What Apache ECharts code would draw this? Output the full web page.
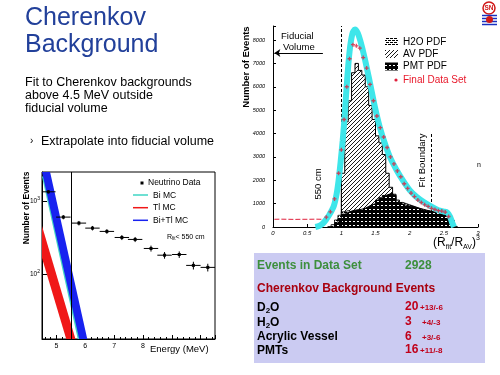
<!DOCTYPE html>
<html>
<head>
<meta charset="utf-8">
<script src="https://cdn.jsdelivr.net/npm/echarts@6/dist/echarts.min.js"></script>
<style>
  html, body { margin: 0; padding: 0; background: #fff; }
  #chart { width: 500px; height: 375px; }
</style>
</head>
<body>
<div id="chart"></div>
<script>
const FONT = '"Liberation Sans", Arial, sans-serif';

// ---- left plot: energy spectrum, R_fit < 550 cm
const energy = [4.72, 5.24, 5.78, 6.25, 6.75, 7.27, 7.73, 8.28, 8.75, 9.26, 9.75, 10.25];
const events = [1340, 604, 500, 427, 385, 318, 299, 225, 182, 186, 132, 124];
const eventErr = [70, 40, 35, 30, 28, 25, 24, 21, 19, 19, 16, 15];
const binHalf = 0.25;

// MC bands, lower and upper edge as [energy, events]
const biLow = [[4.5, 2150], [5.74, 13]];
const biHigh = [[4.76, 2500], [6.02, 13]];
const tlLow = [[4.5, 166], [5.34, 13]];
const tlHigh = [[4.5, 455], [5.66, 13]];
const sumLow = [[4.5, 2500], [5.79, 13]];
const sumHigh = [[4.78, 2500], [6.07, 13]];
const energyTicks = [5, 6, 7, 8];

// ---- right plot: (R/R_AV)^3 distribution
const pdfStart = 0.80;
const pdfBin = 0.05;
const avPdf = [0, 0, 0, 300, 2300, 4500, 5400, 6600, 7000, 6700, 6500, 6000, 5200, 4600, 3900, 3600, 3100, 2300, 1700, 1400,
  1150, 1050, 1000, 950, 900, 850, 800, 760, 720, 680, 640, 600, 570, 540, 500, 380, 150, 0];
const pmtPdf = [0, 0, 150, 350, 550, 620, 680, 720, 740, 760, 800, 880, 950, 1000, 1150, 1250, 1350, 1400, 1450, 1350,
  1050, 980, 930, 900, 870, 830, 780, 730, 700, 680, 650, 630, 610, 590, 570, 530, 300, 0];
const h2oPdf = [0, 100, 300, 500, 650, 700, 650, 600, 500, 400, 350, 300, 250, 200, 150, 120, 100, 80, 60, 50,
  40, 30, 30, 20, 20, 10, 10, 10, 0, 0, 0, 0, 0, 0, 0, 0, 0, 0];
const fitCurve = [[0.62, 0], [0.68, 50], [0.73, 150], [0.78, 330], [0.83, 550], [0.89, 900], [0.93, 1400], [0.96, 2000],
  [0.99, 2800], [1.02, 3700], [1.05, 4800], [1.08, 6100], [1.12, 7500], [1.16, 8250], [1.2, 8450], [1.24, 8300],
  [1.28, 7950], [1.34, 7250], [1.42, 6150], [1.49, 5150], [1.56, 4300], [1.64, 3550], [1.71, 3000], [1.81, 2430],
  [1.91, 1950], [2.0, 1580], [2.1, 1290], [2.2, 1080], [2.32, 870], [2.42, 720], [2.5, 660], [2.55, 620],
  [2.59, 450], [2.62, 200], [2.65, 0]];
const finalData = [[0.78, 420], [0.84, 650], [0.9, 1200], [0.96, 2300], [1.0, 3300], [1.04, 4600], [1.08, 6000],
  [1.12, 7200], [1.17, 7800], [1.22, 7750], [1.27, 7650], [1.32, 7250], [1.37, 6800], [1.42, 6100], [1.47, 5400],
  [1.52, 4750], [1.57, 4250], [1.62, 3850], [1.67, 3400], [1.72, 3000], [1.77, 2700], [1.82, 2400], [1.87, 2150],
  [1.92, 1850], [1.97, 1650], [2.02, 1450], [2.07, 1300], [2.12, 1150], [2.17, 1050], [2.22, 950], [2.27, 880],
  [2.32, 800], [2.37, 750], [2.42, 700], [2.47, 680], [2.52, 640], [2.57, 450]];
const lowRadius = [[0.02, 330], [0.12, 335], [0.22, 330], [0.32, 325], [0.42, 330], [0.52, 330], [0.62, 335], [0.72, 330]];
const radiusTicks = [0, 0.5, 1, 1.5, 2, 2.5, 3];

// table
const dataSetEvents = 2928;
const bgRows = [
  { name: 'D', sub: '2', tail: 'O', n: '20', err: '+13/-6' },
  { name: 'H', sub: '2', tail: 'O', n: '3', err: '+4/-3' },
  { name: 'Acrylic Vessel', sub: '', tail: '', n: '6', err: '+3/-6' },
  { name: 'PMTs', sub: '', tail: '', n: '16', err: '+11/-8' }
];

function makePattern(size, draw) {
  const c = document.createElement('canvas');
  c.width = c.height = size;
  draw(c.getContext('2d'), size);
  return { image: c, repeat: 'repeat' };
}
const avPattern = makePattern(4, (ctx, s) => {
  ctx.fillStyle = '#fff'; ctx.fillRect(0, 0, s, s);
  ctx.strokeStyle = '#000'; ctx.lineWidth = 0.9;
  ctx.beginPath(); ctx.moveTo(0, s); ctx.lineTo(s, 0); ctx.stroke();
});
const pmtPattern = makePattern(4, (ctx, s) => {
  ctx.fillStyle = '#000'; ctx.fillRect(0, 0, s, s);
  ctx.fillStyle = '#fff'; ctx.fillRect(1, 1, 2, 1);
});
const h2oPattern = makePattern(4, (ctx, s) => {
  ctx.fillStyle = '#fff'; ctx.fillRect(0, 0, s, s);
  ctx.fillStyle = '#000'; ctx.fillRect(0, 0, 3, 1); ctx.fillRect(2, 2, 2, 1); ctx.fillRect(0, 2, 1, 1);
});

function histData(counts) {
  const pts = [[pdfStart, 0]];
  counts.forEach((c, i) => pts.push([+(pdfStart + (i + 1) * pdfBin).toFixed(2), c]));
  pts.push([pts[pts.length - 1][0], 0]);
  return pts;
}

function band(name, low, high, color) {
  return {
    type: 'custom', name: name, xAxisIndex: 0, yAxisIndex: 0, clip: true, silent: true,
    data: low, encode: { x: 0, y: 1 },
    renderItem: (params, api) => {
      if (params.dataIndex !== 0) return null;
      const pts = low.concat(high.slice().reverse()).map(p => api.coord(p));
      return { type: 'polygon', shape: { points: pts }, style: { fill: color } };
    }
  };
}

function txt(x, y, text, size, opts) {
  opts = opts || {};
  return {
    type: 'text', x: x, y: y, rotation: opts.rotation || 0, z: 100,
    style: {
      text: text, fill: opts.color || '#000',
      font: (opts.weight || 'normal') + ' ' + size + 'px ' + FONT,
      align: opts.align || 'left', verticalAlign: 'middle',
      textAlign: opts.align || 'left', textVerticalAlign: 'middle',
      rich: opts.rich
    }
  };
}
function seg(x1, y1, x2, y2, color, w) {
  return { type: 'line', z: 100, shape: { x1, y1, x2, y2 }, style: { stroke: color, lineWidth: w || 1 } };
}

const elements = [
  // slide title and text
  txt(25, 18.5, 'Cherenkov', 25, { color: '#22409a' }),
  txt(25, 45.5, 'Background', 25, { color: '#22409a' }),
  txt(25, 82.5, 'Fit to Cherenkov backgrounds', 12.5),
  txt(25, 96, 'above 4.5 MeV outside', 12.5),
  txt(25, 109, 'fiducial volume', 12.5),
  txt(30, 141.5, '\u203A', 10),
  txt(41, 141.5, 'Extrapolate into fiducial volume', 12.5),

  // left plot labels and legend
  txt(27, 208, 'Number of Events', 8.5, { rotation: Math.PI / 2, align: 'center', weight: 'bold' }),
  txt(150, 349, 'Energy (MeV)', 9.5),
  { type: 'rect', z: 100, shape: { x: 140.5, y: 181.5, width: 3, height: 3 }, style: { fill: '#000' } },
  txt(148, 183, 'Neutrino Data', 8.5),
  seg(133, 195, 148, 195, '#3fd6c4', 1.5), txt(153, 195.5, 'Bi MC', 8.5),
  seg(133, 207.7, 148, 207.7, '#f01818', 1.5), txt(153, 208, 'Tl MC', 8.5),
  seg(133, 220.3, 148, 220.3, '#1822f0', 1.5), txt(153, 220.5, 'Bi+Tl MC', 8.5),
  txt(167, 236.7, '{a|R}{s|fit}{a|< 550 cm}', 7, {
    rich: { a: { fontSize: 7, fontFamily: FONT }, s: { fontSize: 4.5, fontFamily: FONT, verticalAlign: 'bottom', lineHeight: 9 } }
  }),

  // right plot labels and legend
  txt(246, 67, 'Number of Events', 9.5, { rotation: Math.PI / 2, align: 'center', weight: 'bold' }),
  txt(281, 36, 'Fiducial', 9.5),
  txt(283, 47.5, 'Volume', 9.5),
  txt(318, 184, '550 cm', 9.5, { rotation: Math.PI / 2, align: 'center' }),
  txt(422.5, 160.5, 'Fit Boundary', 9.5, { rotation: Math.PI / 2, align: 'center' }),
  txt(433, 243, '{a|(R}{s|fit}{a|/R}{s|AV}{a|)}{p|3}', 12, {
    rich: {
      a: { fontSize: 12, fontFamily: FONT, lineHeight: 16 },
      s: { fontSize: 7, fontFamily: FONT, verticalAlign: 'bottom', lineHeight: 16 },
      p: { fontSize: 7, fontFamily: FONT, verticalAlign: 'top', lineHeight: 16 }
    }
  }),
  { type: 'rect', z: 100, shape: { x: 385, y: 38, width: 13, height: 8 }, style: { fill: h2oPattern } },
  { type: 'rect', z: 100, shape: { x: 385, y: 50, width: 13, height: 8 }, style: { fill: avPattern } },
  { type: 'rect', z: 100, shape: { x: 385, y: 62.5, width: 13, height: 8 }, style: { fill: pmtPattern } },
  { type: 'circle', z: 100, shape: { cx: 396, cy: 80, r: 1.6 }, style: { fill: '#e0203c' } },
  txt(403, 42, 'H2O PDF', 10),
  txt(403, 54, 'AV PDF', 10),
  txt(403, 66.5, 'PMT PDF', 10),
  txt(403, 80, 'Final Data Set', 10, { color: '#e8182a' }),
  txt(477, 165, 'n', 7),

  // SNO logo
  { type: 'circle', z: 100, shape: { cx: 489, cy: 8, r: 6 }, style: { fill: '#fff', stroke: '#d01818', lineWidth: 1.5 } },
  txt(489, 8, 'SN', 6.5, { align: 'center', color: '#d01818', weight: 'bold' }),
  seg(482, 15.5, 497, 15.5, '#1830c0', 1.5),
  seg(482, 18.5, 497, 18.5, '#1830c0', 1.5),
  seg(482, 21.5, 497, 21.5, '#1830c0', 1.5),
  seg(482, 24.5, 497, 24.5, '#1830c0', 1.5),
  { type: 'circle', z: 101, shape: { cx: 489.5, cy: 19.5, r: 3.5 }, style: { fill: '#d01818' } },

  // table
  { type: 'rect', z: 99, shape: { x: 254, y: 253, width: 231, height: 110 }, style: { fill: '#cbcbf2' } },
  txt(257, 265.5, 'Events in Data Set', 12, { color: '#3d8f3d', weight: 'bold' }),
  txt(405, 265.5, String(dataSetEvents), 12, { color: '#3d8f3d', weight: 'bold' }),
  txt(257, 289, 'Cherenkov Background Events', 12, { color: '#a8000f', weight: 'bold' })
];
const rowY = [307.5, 322.5, 337, 350.5];
bgRows.forEach((r, i) => {
  const label = r.sub ? '{a|' + r.name + '}{s|' + r.sub + '}{a|' + r.tail + '}' : '{a|' + r.name + '}';
  elements.push(txt(257, rowY[i], label, 12, {
    rich: {
      a: { fontSize: 12, fontWeight: 'bold', fontFamily: FONT, lineHeight: 15 },
      s: { fontSize: 8, fontWeight: 'bold', fontFamily: FONT, verticalAlign: 'bottom', lineHeight: 15 }
    }
  }));
  elements.push(txt(405, rowY[i] - 0.5, r.n, 12, { color: '#c0001a', weight: 'bold' }));
  elements.push(txt(r.n.length > 1 ? 420 : 422, rowY[i] + 0.5, r.err, 8, { color: '#c0001a', weight: 'bold' }));
});

const option = {
  animation: false,
  backgroundColor: '#fff',
  grid: [
    { left: 42, top: 172, width: 173, height: 167, show: true, borderColor: '#000', borderWidth: 1, backgroundColor: 'transparent' },
    { left: 273, top: 26, width: 205, height: 201 }
  ],
  xAxis: [
    {
      type: 'value', gridIndex: 0, min: 4.5, max: 10.5, splitNumber: 6,
      axisLine: { lineStyle: { color: '#000', width: 1 } },
      axisTick: { inside: true, length: 4, lineStyle: { color: '#000' } },
      minorTick: { show: true, splitNumber: 5, length: 2, lineStyle: { color: '#000' } },
      splitLine: { show: false },
      axisLabel: {
        fontSize: 7, fontFamily: FONT, color: '#000', margin: 4,
        formatter: v => energyTicks.indexOf(Math.round(v * 100) / 100) >= 0 ? String(v) : ''
      }
    },
    {
      type: 'value', gridIndex: 1, min: 0, max: 3, interval: 0.5,
      axisLine: { lineStyle: { color: '#000', width: 1 } },
      axisTick: { inside: true, length: 3, lineStyle: { color: '#000' } },
      splitLine: { show: false },
      axisLabel: {
        fontSize: 6, fontFamily: FONT, fontStyle: 'italic', color: '#000', margin: 3,
        formatter: v => radiusTicks.indexOf(v) >= 0 ? String(v) : ''
      }
    }
  ],
  yAxis: [
    {
      type: 'log', gridIndex: 0, min: 13, max: 2500, logBase: 10,
      axisLine: { show: true, lineStyle: { color: '#000', width: 1 } },
      axisTick: { inside: true, length: 5, lineStyle: { color: '#000' } },
      splitLine: { show: false },
      axisLabel: {
        color: '#000', margin: 2,
        formatter: v => {
          const l = Math.log10(v), p = Math.round(l);
          return Math.abs(l - p) < 1e-6 ? '{b|10}{s|' + p + '}' : '';
        },
        rich: {
          b: { fontSize: 6.5, fontFamily: FONT, lineHeight: 10 },
          s: { fontSize: 5, fontFamily: FONT, verticalAlign: 'top', lineHeight: 10 }
        }
      }
    },
    {
      type: 'value', gridIndex: 1, min: 0, max: 8600, interval: 1000,
      axisLine: { show: true, lineStyle: { color: '#000', width: 1 } },
      axisTick: { inside: true, length: 3, lineStyle: { color: '#000' } },
      splitLine: { show: false },
      axisLabel: {
        fontSize: 5.5, fontFamily: FONT, fontStyle: 'italic', color: '#000', margin: 8,
        formatter: v => v % 1000 === 0 ? String(v) : ''
      }
    }
  ],
  series: [
    band('Tl MC', tlLow, tlHigh, '#f01818'),
    band('Bi MC', biLow, biHigh, '#3fd6c4'),
    band('Bi+Tl MC', sumLow, sumHigh, '#1822f0'),
    {
      type: 'custom', name: 'Neutrino Data', xAxisIndex: 0, yAxisIndex: 0, clip: true, z: 5,
      data: energy.map((e, i) => [e, events[i], eventErr[i]]),
      encode: { x: 0, y: 1 },
      renderItem: (params, api) => {
        const e = api.value(0), v = api.value(1), err = api.value(2);
        const l = api.coord([e - binHalf, v]), r = api.coord([e + binHalf, v]);
        const t = api.coord([e, v + err]), b = api.coord([e, v - err]);
        const c = api.coord([e, v]);
        return {
          type: 'group', children: [
            { type: 'line', shape: { x1: l[0], y1: l[1], x2: r[0], y2: r[1] }, style: { stroke: '#000', lineWidth: 1 } },
            { type: 'line', shape: { x1: t[0], y1: t[1], x2: b[0], y2: b[1] }, style: { stroke: '#000', lineWidth: 1 } },
            { type: 'rect', shape: { x: c[0] - 1.5, y: c[1] - 1.5, width: 3, height: 3 }, style: { fill: '#000' } }
          ]
        };
      },
      markLine: {
        silent: true, symbol: 'none', label: { show: false },
        lineStyle: { color: '#000', width: 1, type: 'solid' },
        data: [{ xAxis: 5.5 }]
      }
    },

    {
      type: 'line', name: 'AV PDF', xAxisIndex: 1, yAxisIndex: 1, step: 'start', symbol: 'none', z: 2,
      data: histData(avPdf),
      lineStyle: { color: '#000', width: 1 },
      areaStyle: { color: avPattern, opacity: 1 },
      markLine: {
        silent: true, symbol: 'none', label: { show: false },
        lineStyle: { color: '#000', width: 1, type: [3, 2] },
        data: [{ xAxis: 1 }, [{ coord: [2.32, 0] }, { coord: [2.32, 4000] }]]
      }
    },
    {
      type: 'line', name: 'H2O PDF', xAxisIndex: 1, yAxisIndex: 1, step: 'start', symbol: 'none', z: 3,
      data: histData(h2oPdf),
      lineStyle: { color: '#000', width: 0.8 },
      areaStyle: { color: h2oPattern, opacity: 1 }
    },
    {
      type: 'line', name: 'PMT PDF', xAxisIndex: 1, yAxisIndex: 1, step: 'start', symbol: 'none', z: 4,
      data: histData(pmtPdf),
      lineStyle: { color: '#000', width: 1 },
      areaStyle: { color: pmtPattern, opacity: 1 }
    },
    {
      type: 'line', name: 'Fit', xAxisIndex: 1, yAxisIndex: 1, smooth: 0.3, symbol: 'none', z: 5,
      data: fitCurve,
      lineStyle: { color: '#3ee6ea', width: 6 }
    },
    {
      type: 'scatter', name: 'Final Data Set', xAxisIndex: 1, yAxisIndex: 1, z: 6,
      symbol: 'path://M1,0h1v3h-1z M0,1h3v1h-3z', symbolSize: 4,
      itemStyle: { color: '#e0203c' },
      data: finalData
    },
    {
      type: 'line', name: 'Final Data Set (low R)', xAxisIndex: 1, yAxisIndex: 1, symbol: 'none', z: 6,
      data: lowRadius,
      lineStyle: { color: '#e0203c', width: 1, type: [5, 2] },
      markLine: {
        silent: true, symbol: ['none', 'arrow'], symbolSize: 6, label: { show: false },
        lineStyle: { color: '#000', width: 1, type: 'solid' },
        data: [[{ coord: [0.73, 7450] }, { coord: [0.02, 7450] }]]
      }
    }
  ],
  graphic: { elements: elements }
};

const chart = echarts.init(document.getElementById('chart'));
chart.setOption(option);
window.onresize = function () { chart.resize(); };
</script>
</body>
</html>
